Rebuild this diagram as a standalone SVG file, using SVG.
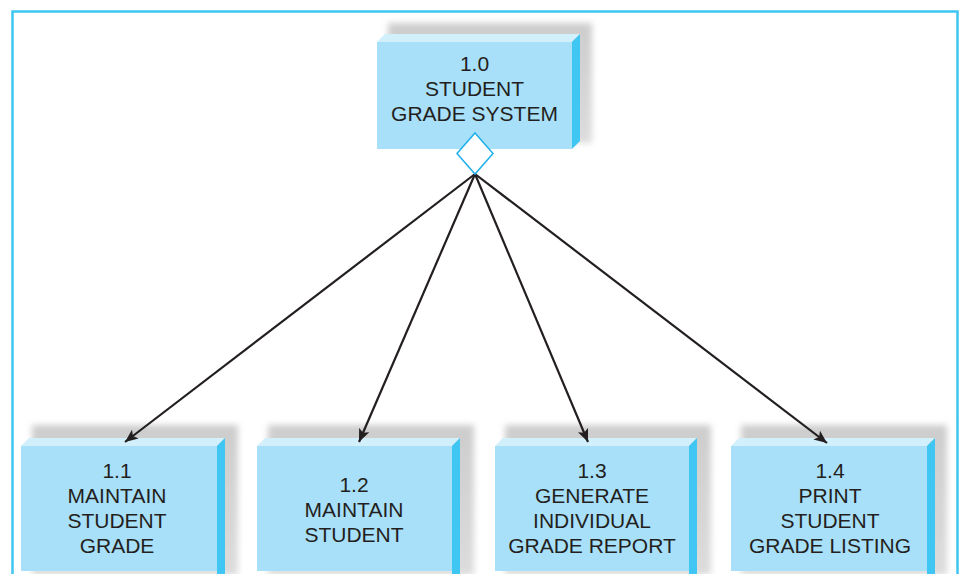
<svg xmlns="http://www.w3.org/2000/svg" width="960" height="574" viewBox="0 0 960 574">
<defs>
<style>
.front{fill:#a9e0f9}
.top{fill:#d2effc}
.side{fill:#3fc6f2}
.shadow{fill:url(#sg);filter:url(#blur)}
.lbl{font-family:"Liberation Sans",Arial,sans-serif;font-size:21px;fill:#231f20;text-anchor:middle}
.conn{stroke:#231f20;stroke-width:2.2;fill:none;marker-end:url(#arr)}
</style>
<linearGradient id="sg" x1="0" y1="0" x2="0" y2="1">
<stop offset="0" stop-color="#cdcdcd"/>
<stop offset="1" stop-color="#dcdcdc"/>
</linearGradient>
<filter id="blur" x="-10%" y="-10%" width="120%" height="120%">
<feGaussianBlur stdDeviation="3"/>
</filter>
<marker id="arr" viewBox="0 0 13 11" refX="13" refY="5.5" markerWidth="13" markerHeight="11" markerUnits="userSpaceOnUse" orient="auto">
<path d="M0,0 L13,5.5 L0,11 L3,5.5 Z" fill="#231f20"/>
</marker>
</defs>
<rect width="960" height="574" fill="#ffffff"/>
<path d="M12.5,574 V11.5 H957.5 V574" fill="none" stroke="#3ec6f0" stroke-width="2.5"/>

<g id="n1-0">
<rect class="shadow" x="388" y="23" width="204" height="120"/>
<polygon class="top" points="377,42 385,34 580,34 572,42"/>
<polygon class="side" points="572,42 580,34 580,141 572,149"/>
<rect class="front" x="377" y="42" width="195" height="107"/>
<text class="lbl" x="474.5" y="71">1.0</text>
<text class="lbl" x="474.5" y="96">STUDENT</text>
<text class="lbl" x="474.5" y="121">GRADE SYSTEM</text>
</g>

<g id="n1-1">
<rect class="shadow" x="32" y="425" width="206" height="150"/>
<polygon class="top" points="21,446 29,438 225,438 217,446"/>
<polygon class="side" points="217,446 225,438 225,574 217,574"/>
<rect class="front" x="21" y="446" width="196" height="125"/>
<text class="lbl" x="117" y="478">1.1</text>
<text class="lbl" x="117" y="503">MAINTAIN</text>
<text class="lbl" x="117" y="528">STUDENT</text>
<text class="lbl" x="117" y="553">GRADE</text>
</g>

<g id="n1-2">
<rect class="shadow" x="268" y="425" width="206" height="150"/>
<polygon class="top" points="257,446 265,438 460,438 452,446"/>
<polygon class="side" points="452,446 460,438 460,574 452,574"/>
<rect class="front" x="257" y="446" width="195" height="125"/>
<text class="lbl" x="354" y="492">1.2</text>
<text class="lbl" x="354" y="517">MAINTAIN</text>
<text class="lbl" x="354" y="542">STUDENT</text>
</g>

<g id="n1-3">
<rect class="shadow" x="505" y="425" width="206" height="150"/>
<polygon class="top" points="495,446 503,438 697,438 689,446"/>
<polygon class="side" points="689,446 697,438 697,574 689,574"/>
<rect class="front" x="495" y="446" width="194" height="125"/>
<text class="lbl" x="592" y="478">1.3</text>
<text class="lbl" x="592" y="503">GENERATE</text>
<text class="lbl" x="592" y="528">INDIVIDUAL</text>
<text class="lbl" x="592" y="553">GRADE REPORT</text>
</g>

<g id="n1-4">
<rect class="shadow" x="741" y="425" width="206" height="150"/>
<polygon class="top" points="731,446 739,438 935,438 927,446"/>
<polygon class="side" points="927,446 935,438 935,574 927,574"/>
<rect class="front" x="731" y="446" width="196" height="125"/>
<text class="lbl" x="830" y="478">1.4</text>
<text class="lbl" x="830" y="503">PRINT</text>
<text class="lbl" x="830" y="528">STUDENT</text>
<text class="lbl" x="830" y="553">GRADE LISTING</text>
</g>

<g id="connectors">
<line class="conn" x1="475" y1="174" x2="125" y2="442"/>
<line class="conn" x1="475" y1="174" x2="359" y2="442"/>
<line class="conn" x1="475" y1="174" x2="588" y2="442"/>
<line class="conn" x1="475" y1="174" x2="827" y2="443"/>
<polygon id="diamond" points="475,133 493,153.5 475,174 457,153.5" fill="#ffffff" stroke="#1fb0ec" stroke-width="1.5"/>
</g>
</svg>
